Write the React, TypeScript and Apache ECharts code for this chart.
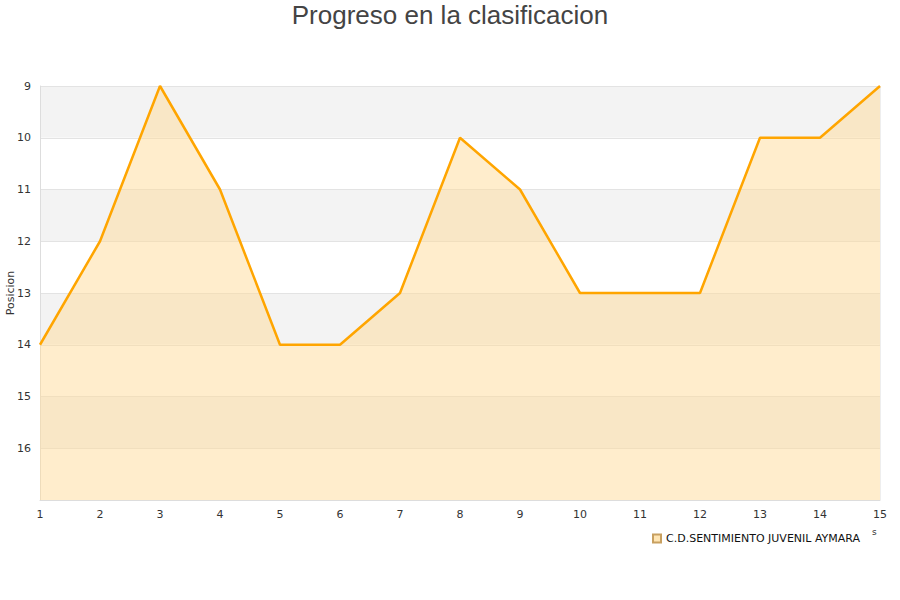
import React, { useEffect, useRef } from "react";
import * as echarts from "echarts";

const jornadas = ["1", "2", "3", "4", "5", "6", "7", "8", "9", "10", "11", "12", "13", "14", "15"];
const posiciones = [14, 12, 9, 11, 14, 14, 13, 10, 11, 13, 13, 13, 10, 10, 9];
const teamName = "C.D.SENTIMIENTO JUVENIL AYMARA";
const chartTitle = "Progreso en la clasificacion";
const yAxisName = "Posicion";

export default function App() {
  const ref = useRef<HTMLDivElement>(null);
  useEffect(() => {
    if (!ref.current) return;
    document.body.style.margin = "0";
    const chart = echarts.init(ref.current, null, { renderer: "svg" });
    chart.setOption({
      animation: false,
      title: {
        text: chartTitle,
        left: "center",
        top: 0,
        padding: [2, 5, 5, 5],
        textStyle: {
          fontFamily: "Liberation Sans",
          fontSize: 26,
          lineHeight: 26,
          fontWeight: "normal",
          color: "#444",
        },
      },
      grid: {
        left: 40,
        right: 20,
        top: 86,
        bottom: 100,
        containLabel: false,
        outerBoundsMode: "none",
      },
      legend: {
        data: [{ name: teamName, icon: "rect" }],
        left: 647,
        top: 528,
        itemWidth: 8,
        itemHeight: 8,
        itemGap: 10,
        textStyle: { fontFamily: "DejaVu Sans", fontSize: 11, color: "#111" },
      },
      xAxis: {
        type: "category",
        data: jornadas,
        boundaryGap: false,
        axisLine: { show: true, lineStyle: { color: "#ddd" } },
        axisTick: { show: false },
        axisLabel: { fontFamily: "DejaVu Sans", fontSize: 11, color: "#333", margin: 9 },
        splitLine: { show: false },
      },
      yAxis: {
        type: "value",
        inverse: true,
        min: 9,
        max: 17,
        interval: 1,
        name: yAxisName,
        nameLocation: "middle",
        nameGap: 24,
        nameMoveOverlap: false,
        nameTruncate: { maxWidth: 300 },
        nameTextStyle: { fontFamily: "DejaVu Sans", fontSize: 11, color: "#333", overflow: "none" },
        axisLine: { show: true, lineStyle: { color: "#ddd" } },
        axisTick: { show: false },
        axisLabel: {
          fontFamily: "DejaVu Sans",
          fontSize: 11,
          color: "#333",
          margin: 9,
          formatter: (v: number) => (v === 17 ? "" : String(v)),
        },
        splitLine: { show: true, lineStyle: { color: "#e3e3e3" } },
        splitArea: { show: true, areaStyle: { color: ["#f3f3f3", "#ffffff"] } },
      },
      graphic: [
        {
          type: "line",
          shape: { x1: 880, y1: 86, x2: 880, y2: 500 },
          style: { stroke: "#ddd", lineWidth: 1 },
          silent: true,
        },
        {
          type: "text",
          x: 872,
          y: 527,
          style: { text: "s", fontFamily: "DejaVu Sans", fontSize: 9, fill: "#333" },
          silent: true,
        },
      ],
      series: [
        {
          name: teamName,
          type: "line",
          data: posiciones,
          symbol: "none",
          lineStyle: { color: "#ffa500", width: 2.5 },
          itemStyle: { color: "#ffe5b3", borderColor: "#c8a060", borderWidth: 1 },
          areaStyle: { color: "rgba(255, 219, 153, 0.5)", opacity: 1, origin: "end" },
        },
      ],
    });
    return () => chart.dispose();
  }, []);
  return (
    <div
      ref={ref}
      style={{ position: "absolute", left: 0, top: 0, width: 900, height: 600 }}
    />
  );
}
